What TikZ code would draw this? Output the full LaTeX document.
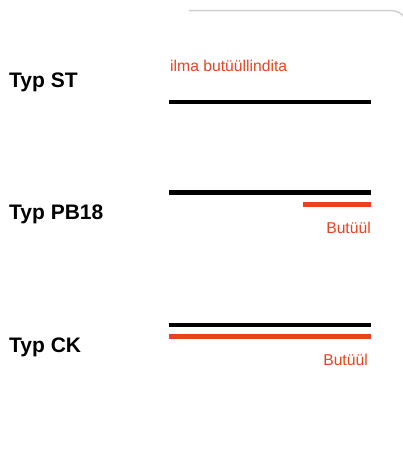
\documentclass[tikz,border=0pt]{standalone}
\usepackage{fontspec}
\setmainfont{Liberation Sans}
\usetikzlibrary{positioning}
\definecolor{butred}{RGB}{234,66,32}
\tikzset{
  typlabel/.style={anchor=base west, inner sep=0pt, font=\bfseries\fontsize{21}{25}\selectfont},
  redlabel/.style={inner sep=0pt, text=butred, font=\fontsize{15.7}{19}\selectfont},
  cable/.style={line width=4.5pt},
  butyl/.style={line width=4.5pt, draw=butred},
}

\begin{document}
\begin{tikzpicture}[x=1pt,y=-1pt]
  \useasboundingbox (0,0) rectangle (403,463);
  \def\xl{169}
  \def\xr{371}

  % frame edge at the top
  \draw[black!18, line width=1.5pt] (189,10.5) -- (390,10.5) .. controls (397,10.5) and (401,13) .. (404,17);

  % Typ ST
  \node[typlabel] (st) at (9,87) {Typ ST};
  \node[redlabel, anchor=base west] (ilma) at (170,71) {ilma butüüllindita};
  \draw[cable] (\xl,102) -- (\xr,102);

  % Typ PB18
  \node[typlabel] (pb) at (9,219) {Typ PB18};
  \draw[cable] (\xl,192.5) -- (\xr,192.5);
  \draw[butyl] (303,204.5) -- (\xr,204.5);
  \node[redlabel, anchor=base east] (pbbut) at (\xr,233) {Butüül};

  % Typ CK
  \node[typlabel] (ck) at (9,352) {Typ CK};
  \draw[cable] (\xl,325) -- (\xr,325);
  \draw[butyl] (\xl,336.5) -- (\xr,336.5);
  \node[redlabel, anchor=base east] (ckbut) at (368,365) {Butüül};
\end{tikzpicture}
\end{document}
